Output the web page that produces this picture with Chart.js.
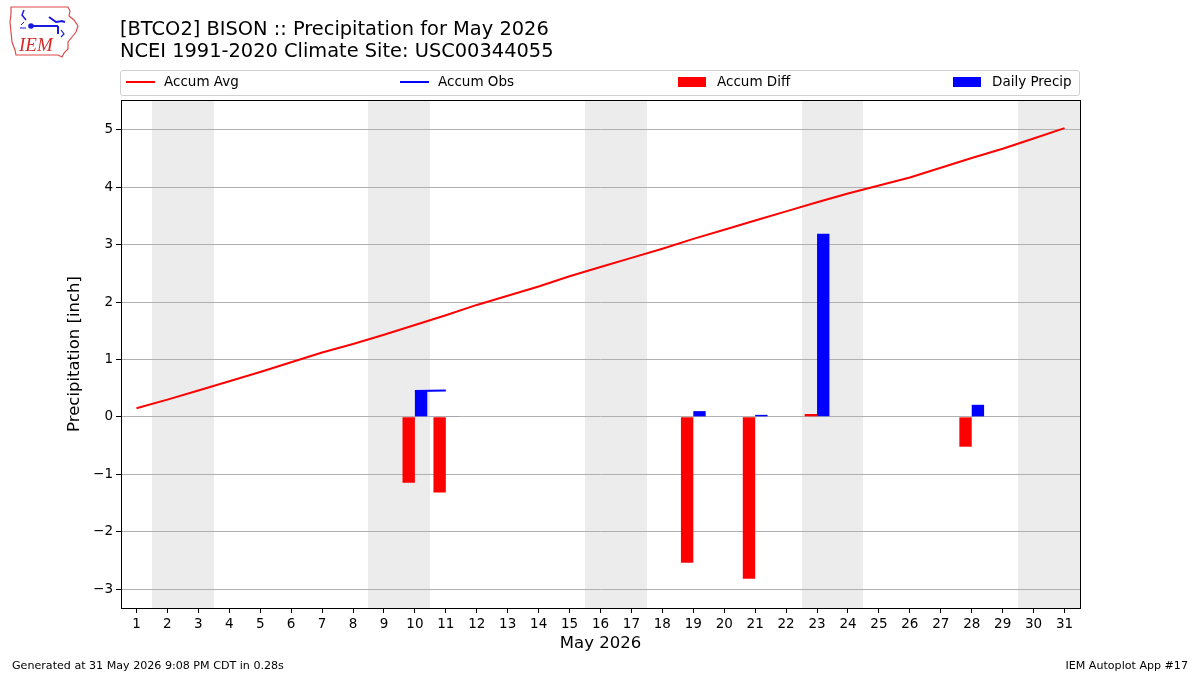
<!DOCTYPE html>
<html>
<head>
<meta charset="utf-8">
<script src="https://cdn.jsdelivr.net/npm/chart.js@4/dist/chart.umd.min.js"></script>
<style>
  html, body { margin:0; padding:0; background:#fff; }
  body { width:1200px; height:675px; position:relative; overflow:hidden; font-family:"DejaVu Sans", sans-serif; color:#000; }
  #c { position:absolute; left:0; top:0; }
  .title { position:absolute; left:120px; font-size:19.4px; white-space:nowrap; line-height:22px; }
  #legend { position:absolute; left:120px; top:70px; width:958px; height:24px; border:1px solid #d0d0d0; border-radius:3px; background:#fff; }
  .li { position:absolute; top:-2px; height:24px; font-size:13.5px; line-height:24px; white-space:nowrap; }
  .sw { position:absolute; }
  .foot { position:absolute; top:659px; font-size:11.1px; white-space:nowrap; }
</style>
</head>
<body>
<canvas id="c" width="1200" height="675"></canvas>
<svg style="position:absolute;left:6px;top:4px" width="76" height="56" viewBox="0 0 76 56">
  <path d="M5,3 L62,3 L64,7 L63,12 L68,16 L72,22 L70,28 L66,33 L62,38 L62,45 L58,49 L56,53 L52,51 L10,51 L9,46 L6,38 L5,28 L4,18 L5,10 Z" fill="none" stroke="#e04a4a" stroke-width="1.2"/>
  <path d="M18,6 L16,11 L20,16" fill="none" stroke="#1a1ae0" stroke-width="1.5"/>
  <circle cx="25" cy="22" r="2.8" fill="#1a1ae0"/>
  <path d="M25,22 L52,22 M43,13 L50,18 L57,17 M52,22 L52,30 M55,17 L59,18" fill="none" stroke="#1a1ae0" stroke-width="2"/>
  <path d="M15,21 L18,18 M14,24 L20,24" fill="none" stroke="#1a1ae0" stroke-width="1"/>
  <path d="M55,26 L58,30 L55,33" fill="none" stroke="#1a1ae0" stroke-width="1.2"/>
  <text x="13" y="47" font-family="Liberation Serif, serif" font-style="italic" font-size="19" fill="#d42a2a">IEM</text>
</svg>
<div class="title" style="top:18px">[BTCO2] BISON :: Precipitation for May 2026</div>
<div class="title" style="top:40px">NCEI 1991-2020 Climate Site: USC00344055</div>
<div id="legend">
  <div class="sw" style="left:5px;top:10px;width:29px;height:2px;background:#ff0000"></div>
  <div class="li" style="left:43px">Accum Avg</div>
  <div class="sw" style="left:279px;top:10px;width:29px;height:2px;background:#0000ff"></div>
  <div class="li" style="left:317px">Accum Obs</div>
  <div class="sw" style="left:557px;top:6px;width:28px;height:10px;background:#ff0000"></div>
  <div class="li" style="left:596px">Accum Diff</div>
  <div class="sw" style="left:832px;top:6px;width:28px;height:10px;background:#0000ff"></div>
  <div class="li" style="left:871px">Daily Precip</div>
</div>
<div class="foot" style="left:12px">Generated at 31 May 2026 9:08 PM CDT in 0.28s</div>
<div class="foot" style="right:12px">IEM Autoplot App #17</div>
<script>
// ---- data ----
const days = ['1','2','3','4','5','6','7','8','9','10','11','12','13','14','15','16','17','18','19','20','21','22','23','24','25','26','27','28','29','30','31'];
const accumAvg = [0.15,0.30,0.46,0.62,0.78,0.95,1.12,1.27,1.43,1.60,1.77,1.95,2.11,2.27,2.45,2.61,2.77,2.93,3.10,3.26,3.42,3.58,3.74,3.89,4.03,4.17,4.34,4.51,4.67,4.85,5.03];
const accumObs = [null,null,null,null,null,null,null,null,null,0.45,0.46,null,null,null,null,null,null,null,0.56,null,0.60,null,3.79,null,null,null,null,4.00,null,null,null];
const accumDiff = [null,null,null,null,null,null,null,null,null,-1.15,-1.32,null,null,null,null,null,null,null,-2.54,null,-2.82,null,0.05,null,null,null,null,-0.52,null,null,null];
const dailyPrecip = [null,null,null,null,null,null,null,null,null,0.45,0.01,null,null,null,null,null,null,null,0.10,null,0.035,null,3.19,null,null,null,null,0.21,null,null,null];
const weekendDays = [2,3,9,10,16,17,23,24,30,31];
const yTicks = [-3,-2,-1,0,1,2,3,4,5];

const shadePlugin = {
  id: 'shade',
  beforeDraw(chart) {
    const {ctx, chartArea, scales: {x}} = chart;
    const half = (x.getPixelForValue(1) - x.getPixelForValue(0)) / 2;
    const spans = [];
    weekendDays.forEach(d => {
      const last = spans[spans.length - 1];
      if (last && last[1] === d - 1) last[1] = d; else spans.push([d, d]);
    });
    ctx.save();
    ctx.fillStyle = '#ececec';
    spans.forEach(([a, b]) => {
      const x0 = Math.round(x.getPixelForValue(a - 1) - half);
      const x1 = Math.round(x.getPixelForValue(b - 1) + half);
      ctx.fillRect(x0, chartArea.top, x1 - x0, chartArea.bottom - chartArea.top);
    });
    ctx.restore();
  }
};
const framePlugin = {
  id: 'frame',
  afterDraw(chart) {
    const {ctx, chartArea: a} = chart;
    ctx.save();
    ctx.strokeStyle = '#000';
    ctx.lineWidth = 1;
    const l = Math.round(a.left) + 0.5, t = Math.round(a.top) + 0.5;
    const r = Math.round(a.right) + 0.5, b = Math.round(a.bottom) + 0.5;
    ctx.strokeRect(l, t, r - l, b - t);
    ctx.restore();
  }
};

const tickFont = {family: 'DejaVu Sans', size: 13.5};
new Chart(document.getElementById('c'), {
  type: 'bar',
  data: {
    labels: days,
    datasets: [
      {type: 'line', label: 'Accum Avg', data: accumAvg, borderColor: '#ff0000', borderWidth: 2, pointRadius: 0, tension: 0, fill: false},
      {type: 'line', label: 'Accum Obs', data: accumObs, borderColor: '#0000ff', borderWidth: 2, pointRadius: 0, tension: 0, fill: false, spanGaps: false},
      {type: 'bar', label: 'Accum Diff', data: accumDiff, backgroundColor: '#ff0000', borderWidth: 0, categoryPercentage: 0.8, barPercentage: 1.0},
      {type: 'bar', label: 'Daily Precip', data: dailyPrecip, backgroundColor: '#0000ff', borderWidth: 0, categoryPercentage: 0.8, barPercentage: 1.0}
    ]
  },
  options: {
    responsive: false,
    animation: false,
    devicePixelRatio: 1,
    layout: {padding: {left: 0, top: 100, right: 120, bottom: 17}},
    plugins: {legend: {display: false}, title: {display: false}, tooltip: {enabled: false}},
    scales: {
      x: {
        type: 'category',
        offset: true,
        grid: {display: true, drawOnChartArea: false, offset: false, tickLength: 5, tickColor: '#000'},
        border: {display: false},
        ticks: {color: '#000', font: tickFont, padding: 3, maxRotation: 0, autoSkip: false},
        title: {display: true, text: 'May 2026', color: '#000', font: {family: 'DejaVu Sans', size: 16.5}, padding: {top: 0, bottom: 4}},
        afterFit: s => { s.height = 50; }
      },
      y: {
        type: 'linear',
        min: -3.33,
        max: 5.52,
        grid: {color: '#b0b0b0', lineWidth: 1, tickLength: 5, tickColor: '#000'},
        border: {display: false},
        afterBuildTicks: s => { s.ticks = yTicks.map(v => ({value: v})); },
        ticks: {color: '#000', font: tickFont, padding: 3, includeBounds: false,
          callback: v => String(v).replace('-', '\u2212')},
        title: {display: true, text: 'Precipitation [inch]', color: '#000', font: {family: 'DejaVu Sans', size: 16.5}, padding: {top: 65, bottom: 0}},
        afterFit: s => { s.width = 121; }
      }
    }
  },
  plugins: [shadePlugin, framePlugin]
});
</script>
</body>
</html>
